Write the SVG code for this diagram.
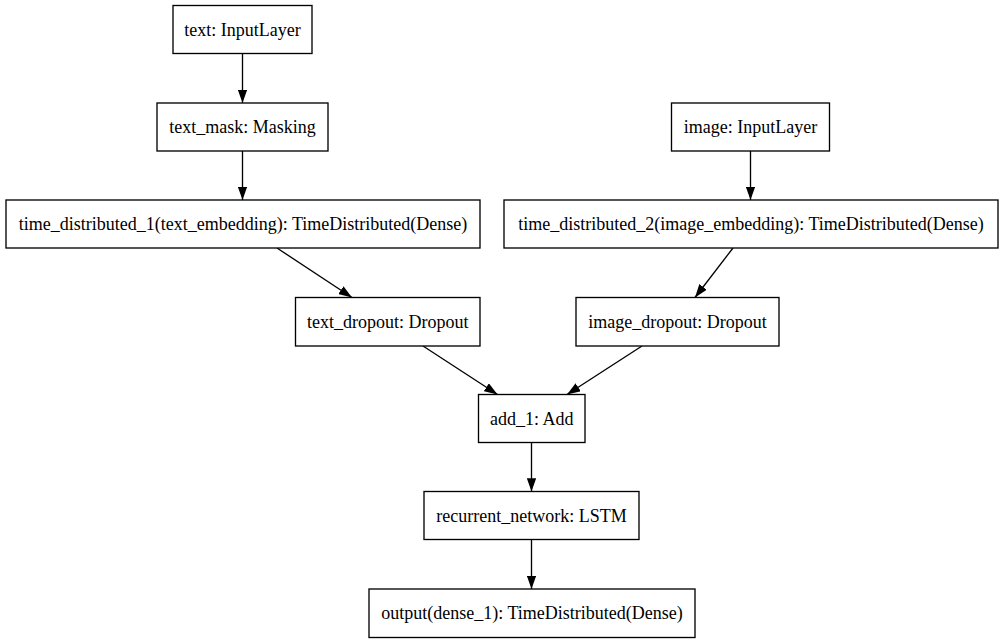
<svg xmlns="http://www.w3.org/2000/svg" width="1003" height="644" viewBox="0 0 1003 644">
<style>
.box{fill:#ffffff;stroke:#000000;stroke-width:1.33}
.lbl{font-family:"Liberation Serif","Times New Roman",serif;font-size:18px;fill:#000000;text-anchor:middle}
.edge{fill:none;stroke:#000000;stroke-width:1.33;marker-end:url(#arr)}
</style>
<defs>
<marker id="arr" viewBox="0 0 13.3 9.4" refX="13.3" refY="4.7" markerWidth="13.3" markerHeight="9.4" markerUnits="userSpaceOnUse" orient="auto">
<polygon points="0,0 13.3,4.7 0,9.4" fill="#000000"/>
</marker>
</defs>
<rect x="0" y="0" width="1003" height="644" fill="#ffffff"/>
<g id="edges">
<path class="edge" d="M242.5,53.5 L242.5,103"/>
<path class="edge" d="M242.5,151 L242.5,200"/>
<path class="edge" d="M750.5,151 L750.5,200"/>
<path class="edge" d="M277,248 L352,297.5"/>
<path class="edge" d="M733,248 L695,297.5"/>
<path class="edge" d="M423,346 L497.5,394.5"/>
<path class="edge" d="M642,346 L567,394.5"/>
<path class="edge" d="M531.5,442.5 L531.5,491.5"/>
<path class="edge" d="M531.5,539.5 L531.5,589"/>
</g>
<g id="text_input">
<rect class="box" x="173" y="5.5" width="139" height="48"/>
<text class="lbl" x="242.5" y="35.5">text: InputLayer</text>
</g>
<g id="text_mask">
<rect class="box" x="157" y="103" width="171" height="48"/>
<text class="lbl" x="242.5" y="133">text_mask: Masking</text>
</g>
<g id="time_distributed_1">
<rect class="box" x="6" y="200" width="474" height="48"/>
<text class="lbl" x="243" y="230">time_distributed_1(text_embedding): TimeDistributed(Dense)</text>
</g>
<g id="image_input">
<rect class="box" x="671.5" y="103" width="158" height="48"/>
<text class="lbl" x="750.5" y="133">image: InputLayer</text>
</g>
<g id="time_distributed_2">
<rect class="box" x="504" y="200" width="494" height="48"/>
<text class="lbl" x="751" y="230">time_distributed_2(image_embedding): TimeDistributed(Dense)</text>
</g>
<g id="text_dropout">
<rect class="box" x="295.5" y="297.5" width="184.5" height="48.5"/>
<text class="lbl" x="387.75" y="327.5">text_dropout: Dropout</text>
</g>
<g id="image_dropout">
<rect class="box" x="576" y="297.5" width="203" height="48.5"/>
<text class="lbl" x="677.5" y="327.5">image_dropout: Dropout</text>
</g>
<g id="add_1">
<rect class="box" x="478.5" y="394.5" width="106.5" height="48"/>
<text class="lbl" x="531.75" y="424.5">add_1: Add</text>
</g>
<g id="recurrent_network">
<rect class="box" x="424" y="491.5" width="215" height="48"/>
<text class="lbl" x="531.5" y="521.5">recurrent_network: LSTM</text>
</g>
<g id="output">
<rect class="box" x="369" y="589" width="326" height="48.5"/>
<text class="lbl" x="532" y="619">output(dense_1): TimeDistributed(Dense)</text>
</g>
</svg>
